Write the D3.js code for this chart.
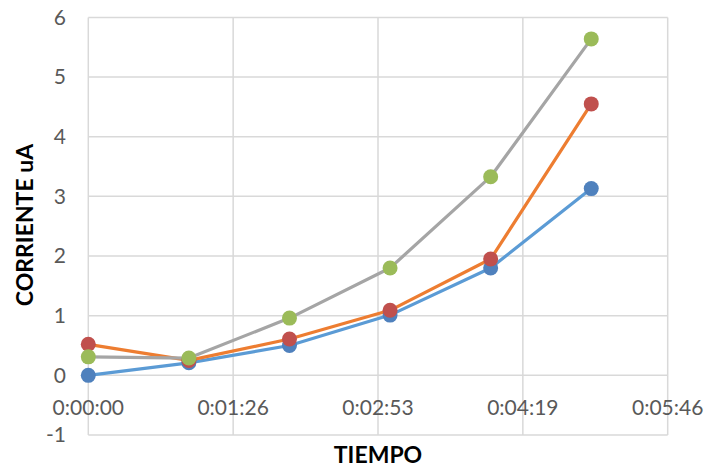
<!DOCTYPE html>
<html><head><meta charset="utf-8">
<script src="https://cdn.jsdelivr.net/npm/d3@7"></script>
<style>body{margin:0;background:#fff}</style>
</head><body>
<svg id="c" width="709" height="469"></svg>
<script>
const times = [0, 60, 120, 180, 240, 300]; // seconds
const serie1 = [0.0, 0.21, 0.50, 1.01, 1.80, 3.13];
const serie2 = [0.52, 0.25, 0.61, 1.09, 1.95, 4.55];
const serie3 = [0.31, 0.29, 0.96, 1.80, 3.33, 5.64];
const xTickValues = [0, 86.4, 172.8, 259.2, 345.6];
const xTickLabels = ["0:00:00", "0:01:26", "0:02:53", "0:04:19", "0:05:46"];
const yTicks = [-1, 0, 1, 2, 3, 4, 5, 6];

const series = [
  {values: serie1, line: "#5B9BD5", marker: "#4F81BD"},
  {values: serie2, line: "#ED7D31", marker: "#C0504D"},
  {values: serie3, line: "#A5A5A5", marker: "#9BBB59"}
];

const svg = d3.select("#c");
const L = 88.3, R = 667.7, T = 17.4, B = 435;
const x = d3.scaleLinear().domain([0, 345.6]).range([L, R]);
const y = d3.scaleLinear().domain([-1, 6]).range([B, T]);
const font = "Lato, 'Open Sans', sans-serif";

// gridlines
svg.append("g").selectAll("line").data(yTicks).join("line")
  .attr("x1", L).attr("x2", R).attr("y1", d => y(d)).attr("y2", d => y(d))
  .attr("stroke", "#D9D9D9").attr("stroke-width", 1.5);
svg.append("g").selectAll("line").data(xTickValues).join("line")
  .attr("y1", T).attr("y2", B).attr("x1", d => x(d)).attr("x2", d => x(d))
  .attr("stroke", "#D9D9D9").attr("stroke-width", 1.5);

// y tick labels
svg.append("g").selectAll("text").data(yTicks).join("text")
  .attr("x", 66).attr("y", d => y(d)).attr("dy", "0.35em")
  .attr("text-anchor", "end").attr("font-family", font).attr("font-size", 21)
  .attr("fill", "#595959").text(d => d);

// x tick labels
svg.append("g").selectAll("text").data(xTickValues).join("text")
  .attr("x", d => x(d)).attr("y", y(0) + 32).attr("dy", "0.35em")
  .attr("text-anchor", "middle").attr("font-family", font).attr("font-size", 21)
  .attr("fill", "#595959").text((d, i) => xTickLabels[i]);

// lines and markers
const line = d3.line().x((d, i) => x(times[i])).y(d => y(d));
series.forEach(s => {
  svg.append("path").datum(s.values).attr("d", line)
    .attr("fill", "none").attr("stroke", s.line).attr("stroke-width", 3.2)
    .attr("stroke-linejoin", "round").attr("stroke-linecap", "round");
});
series.forEach(s => {
  svg.append("g").selectAll("circle").data(s.values).join("circle")
    .attr("cx", (d, i) => x(times[i])).attr("cy", d => y(d)).attr("r", 7.5)
    .attr("fill", s.marker);
});

// axis titles
svg.append("text").attr("x", 378).attr("y", 455).attr("dy", "0.35em")
  .attr("text-anchor", "middle").attr("font-family", font).attr("font-weight", "bold")
  .attr("font-size", 23).attr("fill", "#000").text("TIEMPO");
svg.append("text").attr("transform", "translate(25,225) rotate(-90)").attr("dy", "0.35em")
  .attr("text-anchor", "middle").attr("font-family", font).attr("font-weight", "bold")
  .attr("font-size", 23).attr("fill", "#000").text("CORRIENTE uA");
</script>
</body></html>
